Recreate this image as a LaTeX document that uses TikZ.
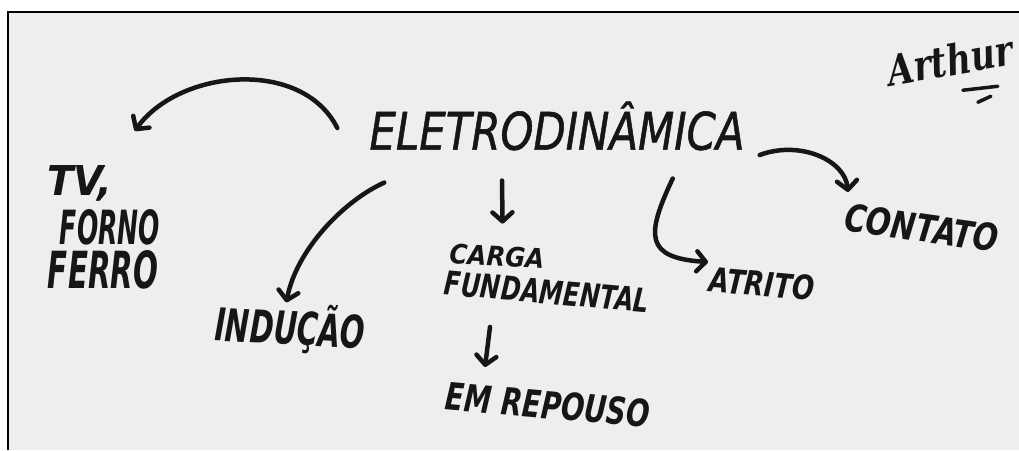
\documentclass[tikz,border=0pt]{standalone}
\usepackage{fontspec}
\setmainfont{DejaVu Sans}
\newfontfamily\sigfont{DejaVu Serif}
\newfontfamily\titlefont[FakeBold=1.2]{DejaVu Sans}
\usepackage{graphicx}
\usetikzlibrary{arrows.meta,calc}
\definecolor{paper}{HTML}{ECEEF0}
\definecolor{ink}{HTML}{161616}
\newcommand{\hand}[3]{\resizebox{#1pt}{#2pt}{\bfseries\itshape #3}}
\newcommand{\handthin}[3]{\resizebox{#1pt}{#2pt}{\titlefont\itshape #3}}
\tikzset{
  lbl/.style={inner sep=0pt, text=ink},
  arr/.style={draw=ink, line width=4.5pt, line cap=round,
    -{Straight Barb[round,length=9pt,width=20pt]}},
}
\begin{document}
\begin{tikzpicture}[x=1pt,y=-1pt]
\useasboundingbox (0,0) rectangle (1019,450);
\clip (0,0) rectangle (1019,450);
\fill[white] (0,0) rectangle (1019,450);
\fill[paper] (8,12) rectangle (1019,450);
\draw[black, line width=1.6pt] (8,450) -- (8,12) -- (1019,12);

% title
\node[lbl] (title) at (557,126) {\handthin{375}{48}{ELETRODINÂMICA}};

% signature
\node[lbl, rotate=10] (sig) at (950,60) {\resizebox{126pt}{32pt}{\sigfont\bfseries\itshape Arthur}};
\draw[ink, line width=3.5pt, line cap=round] ($(sig.south)+(10,14)$) -- ($(sig.south)+(45,10)$);
\draw[ink, line width=3.5pt, line cap=round] ($(sig.south)+(25,26)$) -- ($(sig.south)+(38,20)$);

% left list
\node[lbl] (tv) at (80,183) {\hand{65}{30}{TV,}};
\node[lbl] (forno) at (110,227) {\hand{100}{35}{FORNO}};
\node[lbl] (ferro) at (103,270) {\hand{110}{38}{FERRO}};

% other labels
\node[lbl, rotate=-3] (indu) at (290,328) {\hand{150}{42}{INDUÇÃO}};
\node[lbl, rotate=-3] (carga) at (497,256) {\hand{95}{20}{CARGA}};
\node[lbl, rotate=-5] (fund) at (547,292) {\hand{205}{24}{FUNDAMENTAL}};
\node[lbl, rotate=-5] (repouso) at (548,405) {\hand{205}{28}{EM REPOUSO}};
\node[lbl, rotate=-5] (atrito) at (762,284) {\hand{105}{25}{ATRITO}};
\node[lbl, rotate=-8] (contato) at (922,228) {\hand{155}{28}{CONTATO}};

% connectors
\draw[arr] ($(title.west)+(-32,2)$) .. controls +(-35,-70) and +(45,-62) .. ($(tv.north east)+(22,-34)$);
\draw[arr] ($(title.south west)+(15,32)$) .. controls +(-40,18) and +(10,-53) .. ($(indu.north)+(-5,0)$);
\draw[arr] ($(title.south)+(-55,30)$) -- ($(carga.north)+(5,-22)$);
\draw[arr] ($(fund.center)+(-57,35)$) -- ($(repouso.center)+(-63,-38)$);
\draw[arr] ($(title.south east)+(-72,28)$) .. controls +(-27,57) and +(-63,-4) .. ($(atrito.center)+(-54,-22)$);
\draw[arr] ($(title.east)+(15,29)$) .. controls +(40,-15) and +(-3,-32) .. ($(contato.center)+(-74,-36)$);
\end{tikzpicture}
\end{document}
